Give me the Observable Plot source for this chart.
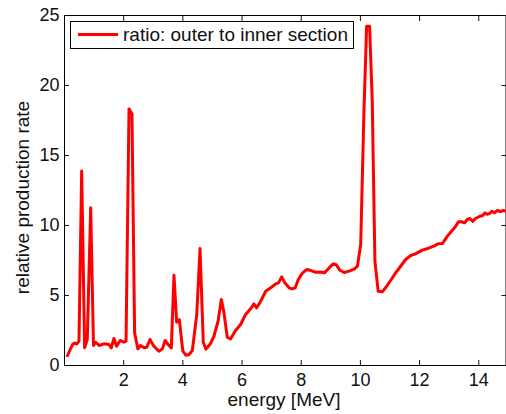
<!DOCTYPE html>
<html>
<head>
<meta charset="utf-8">
<script src="https://cdn.jsdelivr.net/npm/d3@7"></script>
<script src="https://cdn.jsdelivr.net/npm/@observablehq/plot@0.6"></script>
<style>
  html, body { margin: 0; padding: 0; background: #fff; }
  #wrap { position: relative; width: 506px; height: 414px; font-family: "Liberation Sans", Arial, Helvetica, sans-serif; color: #111; }
  #legend { position: absolute; left: 70px; top: 21px; width: 284px; height: 28px; border: 1px solid #000; background: #fff; box-sizing: border-box; }
  #legend .swatch { position: absolute; left: 7px; top: 11px; width: 40px; height: 0; border-top: 3px solid #ff0000; }
  #legend .lbl { position: absolute; left: 52px; top: 3px; font-size: 19px; line-height: 19px; white-space: nowrap; }
  .axlabel { position: absolute; font-size: 19px; text-align: center; white-space: nowrap; }
  #xlab { left: 184px; top: 391.5px; width: 200px; line-height: 15px; height: 15px; }
  #ylab { left: -128px; top: 187.5px; width: 300px; line-height: 19px; height: 19px; transform: rotate(-90deg); }
</style>
</head>
<body>
<div id="wrap"></div>
<script>
const energy = [0.10,0.27,0.34,0.41,0.49,0.58,0.68,0.77,0.885,0.98,1.05,1.17,1.33,1.50,1.58,1.67,1.76,1.88,2.01,2.08,2.18,2.28,2.37,2.48,2.57,2.69,2.78,2.89,3.02,3.19,3.31,3.40,3.50,3.61,3.70,3.79,3.88,4.00,4.10,4.20,4.32,4.47,4.58,4.69,4.78,4.93,5.05,5.19,5.30,5.39,5.50,5.61,5.78,5.95,6.12,6.29,6.40,6.49,6.60,6.80,6.97,7.14,7.23,7.34,7.45,7.59,7.70,7.80,7.90,8.04,8.18,8.31,8.49,8.66,8.79,8.94,9.08,9.18,9.31,9.45,9.64,9.80,9.90,10.01,10.12,10.21,10.31,10.40,10.49,10.60,10.74,10.85,11.02,11.19,11.36,11.53,11.70,11.86,12.09,12.28,12.48,12.62,12.77,12.94,13.13,13.22,13.31,13.44,13.52,13.61,13.70,13.80,13.89,14.04,14.12,14.21,14.28,14.37,14.45,14.53,14.62,14.73,14.84,14.93];
const ratio = [0.71,1.50,1.60,1.54,1.74,13.9,1.26,1.86,11.26,1.43,1.66,1.43,1.55,1.50,1.26,1.93,1.38,1.79,1.66,1.74,18.33,17.97,2.33,1.19,1.43,1.26,1.30,1.86,1.38,1.02,1.19,1.79,1.50,1.26,6.45,3.09,3.28,1.02,0.74,0.76,1.07,3.64,8.36,1.66,1.17,1.55,2.09,3.16,4.71,3.76,2.02,1.90,2.50,2.93,3.64,4.05,4.40,4.12,4.47,5.30,5.55,5.83,5.90,6.33,5.90,5.55,5.47,5.55,6.14,6.60,6.85,6.80,6.66,6.68,6.62,6.97,7.26,7.20,6.80,6.64,6.76,6.90,7.10,8.64,18.2,24.24,24.24,18.9,7.45,5.30,5.26,5.55,6.07,6.62,7.09,7.57,7.86,7.97,8.24,8.36,8.52,8.69,8.71,9.24,9.71,9.95,10.26,10.26,10.19,10.43,10.50,10.30,10.50,10.66,10.69,10.90,10.80,10.87,11.02,10.90,11.07,11.00,11.07,11.02];
const xTicks = [2,4,6,8,10,12,14];
const yTicks = [0,5,10,15,20,25];
const seriesName = "ratio: outer to inner section";
const xLabel = "energy [MeV]";
const yLabel = "relative production rate";

const data = energy.map((e, i) => ({energy: e, ratio: ratio[i]}));

const chart = Plot.plot({
  width: 506,
  height: 414,
  marginLeft: 64,
  marginRight: 0.5,
  marginTop: 15,
  marginBottom: 49,
  style: {fontFamily: '"Liberation Sans", Arial, Helvetica, sans-serif', fontSize: "18px", color: "#111", background: "#fff"},
  x: {domain: [0, 14.92]},
  y: {domain: [0, 25]},
  marks: [
    Plot.frame({stroke: "#000", strokeWidth: 1}),
    Plot.line(data, {x: "energy", y: "ratio", stroke: "#ff0000", strokeWidth: 3, clip: true}),
    Plot.axisX(xTicks, {anchor: "bottom", tickSize: -5, tickPadding: 12.5, label: null}),
    Plot.axisX(xTicks, {anchor: "top", tickSize: -5, tickFormat: () => "", label: null}),
    Plot.axisY(yTicks, {anchor: "left", tickSize: -5, tickPadding: 10, label: null}),
    Plot.axisY(yTicks, {anchor: "right", tickSize: -5, tickFormat: () => "", label: null})
  ]
});

const wrap = document.getElementById("wrap");
wrap.appendChild(chart);

const legend = document.createElement("div");
legend.id = "legend";
legend.innerHTML = '<div class="swatch"></div><div class="lbl"></div>';
legend.querySelector(".lbl").textContent = seriesName;
wrap.appendChild(legend);

const xl = document.createElement("div");
xl.id = "xlab"; xl.className = "axlabel"; xl.textContent = xLabel;
wrap.appendChild(xl);
const yl = document.createElement("div");
yl.id = "ylab"; yl.className = "axlabel"; yl.textContent = yLabel;
wrap.appendChild(yl);
</script>
</body>
</html>
